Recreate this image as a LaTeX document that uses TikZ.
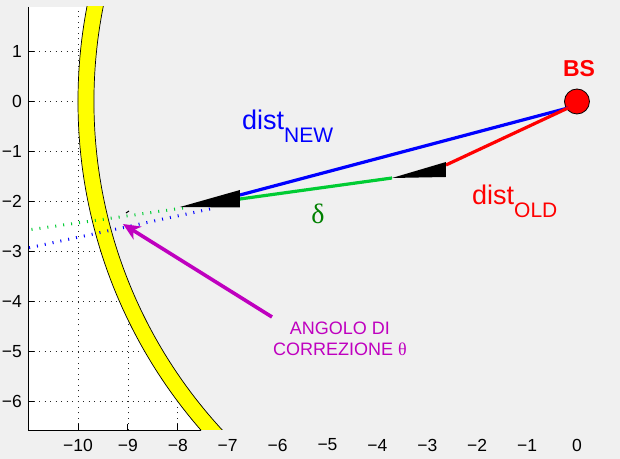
\documentclass[tikz,border=0pt]{standalone}
\usepackage{fontspec}
\setmainfont{Liberation Sans}
\newfontfamily\greekfont{Liberation Serif}
\usetikzlibrary{arrows.meta}
\definecolor{bsfig}{HTML}{F0F0F0}
\definecolor{bsblue}{HTML}{0000FF}
\definecolor{bsred}{HTML}{FF0000}
\definecolor{bsgreen}{HTML}{00CC33}
\definecolor{bsdkgreen}{HTML}{008000}
\definecolor{bsmagenta}{HTML}{BF00BF}
\definecolor{bsyellow}{HTML}{FFFF00}
\tikzset{
  bs grid/.style={draw=black!85, line width=0.7pt, dash pattern=on 1pt off 4.5pt},
  bs axis/.style={draw=black, line width=0.8pt},
  bs tick/.style={font=\fontsize{17.5}{20}\selectfont, inner sep=0pt},
  bs ring/.style={draw=black, line width=0.7pt},
  bs ray/.style={line width=3.2pt, line cap=butt},
  bs trace/.style={line width=3pt, dash pattern=on 1pt off 7pt},
  bs station/.style={circle, draw=black, line width=0.8pt, fill=bsred,
    minimum size=25pt, inner sep=0pt},
  bs label/.style={font=\fontsize{23}{26}\selectfont\bfseries, text=bsred, inner sep=0pt},
  bs dist/.style={font=\fontsize{27}{30}\selectfont, inner sep=0pt, anchor=base west},
  bs pointer/.style={-{Stealth[length=17pt, width=15pt, inset=5pt]}, line width=3.6pt,
    draw=bsmagenta, fill=bsmagenta},
  bs note/.style={font=\fontsize{18}{21}\selectfont, text=bsmagenta, align=center, inner sep=0pt}
}
\newcommand{\bsnum}[1]{\ifnum#1<0 −\number\numexpr-#1\relax\else#1\fi}
\newcommand{\bssub}[1]{\raisebox{-13pt}{\fontsize{21}{22}\selectfont #1}}

\begin{document}
\begin{tikzpicture}[x=49.9pt, y=50pt]
  \useasboundingbox (-11.563,-7.15) rectangle (0.862,2.03);
  \fill[bsfig] (-11.563,-7.15) rectangle (0.862,2.03);
  \coordinate (axsw) at (-11,-6.57);
  \coordinate (axne) at (0.862,1.89);
  \fill[white] (axsw) rectangle (axne);
  \foreach \gx in {-10,...,0} \draw[bs grid] (\gx,-6.57) -- (\gx,1.89);
  \foreach \gy in {-6,...,1} \draw[bs grid] (-11,\gy) -- (0.862,\gy);
  \draw[bs axis] (-11,1.89) -- (axsw) -- (0.862,-6.57);
  \foreach \gy in {-6,...,1} \draw[bs axis] (-11,\gy) -- ++(6pt,0);
  \foreach \gx in {-10,...,0} \draw[bs axis] (\gx,-6.57) -- ++(0,6pt);
  \begin{scope}
    \clip (-11.563,-7.15) rectangle (0.862,2.03);
    \fill[bsfig] (0,0) circle[radius=10];
  \end{scope}
  \begin{scope}
    \clip (axsw) rectangle (axne);
    \fill[bsyellow, even odd rule] (0,0) circle[radius=10] (0,0) circle[radius=9.68];
    \draw[bs ring] (0,0) circle[radius=10] (0,0) circle[radius=9.68];
  \end{scope}
  \foreach \gy in {-6,...,1} \node[bs tick, anchor=east] (yl\gy) at (-11.12,\gy) {\bsnum{\gy}};
  \foreach \gx in {-10,...,0} \node[bs tick] (xl\gx) at (\gx,-6.87) {\bsnum{\gx}};

  \coordinate (greentrace) at (-7.896,-2.13);
  \coordinate (greentraceend) at (-11,-2.57);
  \coordinate (bluetrace) at (-7.355,-2.15);
  \coordinate (bluetraceend) at (-11,-2.93);
  \draw[bs trace, draw=bsgreen] (greentrace) -- (greentraceend);
  \draw[bs trace, draw=bsblue] (bluetrace) -- (bluetraceend);

  \node[bs station] (bs) at (0,0) {};
  \node[bs label] (bslabel) at (0.04,0.66) {BS};
  \coordinate (src) at (-0.18,-0.13);
  \coordinate (newend) at (-6.754,-1.87);
  \coordinate (oldend) at (-2.625,-1.27);
  \coordinate (oldtip) at (-3.707,-1.53);
  \coordinate (deltaend) at (-6.754,-1.95);
  \coordinate (newtip) at (-7.956,-2.11);
  \draw[bs ray, draw=bsblue] (src) -- (newend);
  \draw[bs ray, draw=bsred] (src) -- (oldend);
  \draw[bs ray, draw=bsgreen] (oldtip) -- (deltaend);
  \fill (oldtip) -- (-2.625,-1.21) -- (-2.625,-1.51) -- cycle;
  \fill (newtip) -- (-6.754,-1.77) -- (-6.754,-2.12) -- cycle;
  \draw[line width=1pt] (-9.038,-2.23) -- (-8.978,-2.19);

  \node[bs dist, text=bsblue] (distnew) at (-6.713,-0.57) {dist\bssub{NEW}};
  \node[bs dist, text=bsred] (distold) at (-2.104,-2.07) {dist\bssub{OLD}};
  \node[font=\fontsize{28}{30}\selectfont\greekfont, text=bsdkgreen, inner sep=0pt] (delta) at (-5.19,-2.25) {δ};

  \node[bs note] (angle) at (-4.75,-4.75) {ANGOLO DI\\CORREZIONE {\greekfont θ}};
  \coordinate (pointertail) at (-6.112,-4.31);
  \coordinate (pointertip) at (-9.098,-2.45);
  \draw[bs pointer] (pointertail) -- (pointertip);
\end{tikzpicture}
\end{document}
